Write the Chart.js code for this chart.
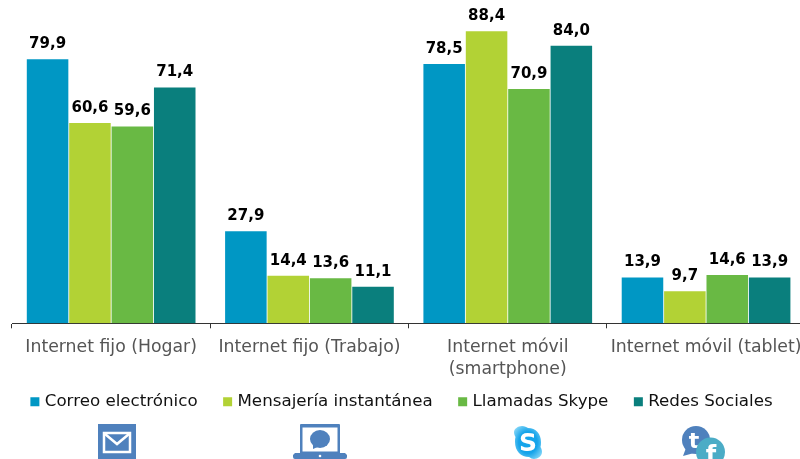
<!DOCTYPE html>
<html>
<head>
<meta charset="utf-8">
<script src="https://cdn.jsdelivr.net/npm/chart.js@4"></script>
<style>
  html, body { margin: 0; padding: 0; background: #fff; overflow: hidden; }
  #wrap { position: relative; width: 800px; height: 459px; overflow: hidden; }
  #chart { position: absolute; left: 0; top: 0; }
  svg { position: absolute; }
</style>
</head>
<body>
<div id="wrap">
  <canvas id="chart" width="810" height="459" style="width:810px;height:459px"></canvas>

  <!-- icons under the legend -->
  <svg style="left:98px;top:424px" width="38" height="35" viewBox="0 0 38 35">
    <rect width="38" height="35" fill="#4f81bd"/>
    <rect x="6" y="9" width="26" height="19" fill="none" stroke="#fff" stroke-width="2.5"/>
    <path d="M7 10 L19 20 L31 10" fill="none" stroke="#fff" stroke-width="2.5"/>
  </svg>
  <svg style="left:293px;top:424px" width="54" height="35" viewBox="0 0 54 35">
    <path d="M7 1 Q7 0 8 0 H46 Q47 0 47 1 V29 H52 L54 31 V33 Q54 35 52 35 H2 Q0 35 0 33 V31 L2 29 H7 Z" fill="#4f81bd"/>
    <rect x="9.5" y="3.5" width="35" height="24" fill="#fff"/>
    <ellipse cx="27" cy="15" rx="10" ry="9" fill="#4f81bd"/>
    <path d="M20 19 L20 25 L27 22 Z" fill="#4f81bd"/>
    <circle cx="27" cy="32" r="1.3" fill="#fff"/>
  </svg>
  <svg style="left:514px;top:425px" width="28" height="34" viewBox="0 0 28 34">
    <defs>
      <radialGradient id="sky" cx="50%" cy="50%" r="60%">
        <stop offset="0.55" stop-color="#16a4ea"/>
        <stop offset="1" stop-color="#7fd4f7"/>
      </radialGradient>
    </defs>
    <path d="M8 1 C11 1 12 2 14 3 C22 3 27 9 27 17 C27 19 27 20 26.5 22 C27.5 24 28 25 28 27 C28 31 24 34 20 34 C18 34 17 33 15 32 C7 32 1 26 1 17 C1 15 1 14 1.5 12 C0.5 10 0 9 0 7 C0 4 4 1 8 1 Z" fill="url(#sky)"/>
    <text x="14" y="26" font-family="DejaVu Sans" font-size="25" font-weight="bold" text-anchor="middle" fill="#fff">S</text>
  </svg>
  <svg style="left:681px;top:426px" width="44" height="33" viewBox="0 0 44 33">
    <circle cx="15" cy="14" r="14" fill="#4f81bd"/>
    <path d="M5 22 L2 30 L13 27 Z" fill="#4f81bd"/>
    <text x="13" y="22" font-family="DejaVu Sans" font-size="22" font-weight="bold" text-anchor="middle" fill="#fff">t</text>
    <circle cx="29.5" cy="26" r="14.5" fill="#4bacc6"/>
    <text x="30" y="37" font-family="DejaVu Sans" font-size="24" font-weight="bold" text-anchor="middle" fill="#fff">f</text>
  </svg>
</div>

<script>
  // values
  const categories = [
    "Internet fijo (Hogar)",
    "Internet fijo (Trabajo)",
    ["Internet móvil", "(smartphone)"],
    "Internet móvil (tablet)",
  ];
  const correo = [79.9, 27.9, 78.5, 13.9];
  const mensajeria = [60.6, 14.4, 88.4, 9.7];
  const llamadas = [59.6, 13.6, 70.9, 14.6];
  const redes = [71.4, 11.1, 84.0, 13.9];

  const seriesNames = ["Correo electrónico", "Mensajería instantánea", "Llamadas Skype", "Redes Sociales"];
  const seriesColors = ["#0097c4", "#b2d235", "#69b944", "#0a7f7d"];

  // draws the number above each bar
  const valueLabels = {
    id: "valueLabels",
    beforeDraw(chart) {
      // tick labels are clipped to the scale box, the two line one needs more room
      chart.scales.x.bottom = chart.scales.x.top + 70;
    },
    afterDatasetsDraw(chart) {
      const ctx = chart.ctx;
      ctx.save();
      ctx.font = "bold 15px 'DejaVu Sans'";
      ctx.fillStyle = "#000";
      ctx.textAlign = "center";
      ctx.textBaseline = "alphabetic";
      chart.data.datasets.forEach((ds, i) => {
        chart.getDatasetMeta(i).data.forEach((bar, j) => {
          ctx.fillText(ds.data[j].toFixed(1).replace(".", ","), bar.x, bar.y - 11);
        });
      });
      ctx.restore();
    },
  };

  const dataSets = [correo, mensajeria, llamadas, redes].map((values, i) => ({
    label: seriesNames[i],
    data: values,
    backgroundColor: seriesColors[i],
    categoryPercentage: 0.855,
    barPercentage: 0.98,
  }));

  new Chart(document.getElementById("chart"), {
    type: "bar",
    data: { labels: categories, datasets: dataSets },
    plugins: [valueLabels],
    options: {
      responsive: false,
      animation: false,
      layout: { padding: { left: 0, right: 4, top: 26, bottom: 39 } },
      plugins: {
        tooltip: { enabled: false },
        legend: {
          position: "bottom",
          labels: {
            usePointStyle: true,
            pointStyle: "rect",
            boxWidth: 3,
            boxHeight: 9,
            padding: 28.5,
            color: "#111",
            font: { family: "'DejaVu Sans'", size: 16.7 },
          },
        },
      },
      scales: {
        x: {
          afterFit(scale) {
            scale.height = 41.5;
          },
          grid: { drawOnChartArea: false, color: "#333", tickLength: 5, offset: true },
          border: { color: "#333", width: 1 },
          ticks: {
            color: "#555",
            padding: 8,
            maxRotation: 0,
            autoSkip: false,
            font: { family: "'DejaVu Sans'", size: 17.3, lineHeight: 1.27 },
          },
        },
        y: {
          // kept only to hold the left margin, the legend centres without it
          afterFit(scale) {
            scale.width = 12;
          },
          min: 0,
          max: 90,
          grid: { display: false },
          border: { display: false },
          ticks: { display: false },
        },
      },
    },
  });
</script>
</body>
</html>
